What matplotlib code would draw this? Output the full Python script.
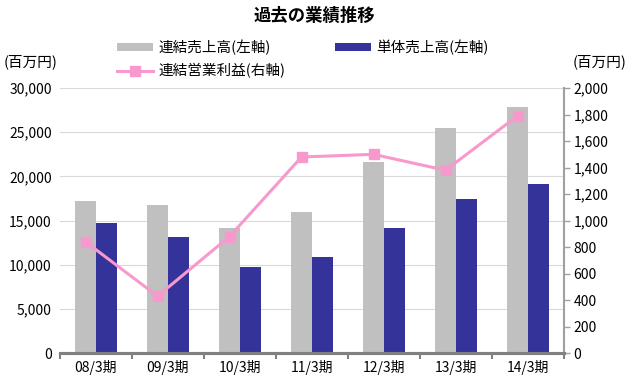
import matplotlib
matplotlib.use("Agg")
import matplotlib.pyplot as plt
import numpy as np

plt.rcParams['font.family'] = ['Noto Sans CJK JP', 'DejaVu Sans']

# data (百万円)
periods = ["08/3期", "09/3期", "10/3期", "11/3期", "12/3期", "13/3期", "14/3期"]
consolidated_sales = [17200, 16800, 14200, 16000, 21600, 25500, 27900]
standalone_sales = [14700, 13100, 9700, 10900, 14200, 17500, 19200]
operating_profit = [840, 430, 880, 1480, 1500, 1380, 1790]

gray = "#C0C0C0"
navy = "#333399"
pink = "#F799CC"

fig = plt.figure(figsize=(6.28, 3.83), dpi=100)
ax = fig.add_axes([0.0955, 0.078, 0.8025, 0.692])
ax2 = ax.twinx()

x = np.arange(len(periods))
w = 0.29
b1 = ax.bar(x - w / 2, consolidated_sales, w, color=gray, zorder=2)
b2 = ax.bar(x + w / 2, standalone_sales, w, color=navy, zorder=2)
l1, = ax2.plot(x - w / 2, operating_profit, color=pink, lw=2.2, marker="s", ms=7, zorder=3)

ax.set_xlim(-0.5, len(periods) - 0.5)
ax.set_ylim(0, 30000)
ax.set_yticks(np.arange(0, 30001, 5000))
ax.set_yticklabels([f"{v:,}" for v in range(0, 30001, 5000)], fontsize=10)
ax.grid(axis="y", color="#D9D9D9", lw=0.8, zorder=0)
ax.set_axisbelow(True)
ax.tick_params(axis="y", length=0, pad=6)

ax.set_xticks(x)
ax.set_xticklabels(periods, fontsize=10)
ax.set_xticks(np.arange(-0.5, len(periods) + 0.5, 1), minor=True)
ax.tick_params(axis="x", which="major", length=0, pad=5)
ax.tick_params(axis="x", which="minor", length=4, width=1.5, color="#808080")

ax2.set_ylim(0, 2000)
ax2.set_yticks(np.arange(0, 2001, 200))
ax2.set_yticklabels([f"{v:,}" for v in range(0, 2001, 200)], fontsize=10)
ax2.tick_params(axis="y", length=4, width=1, color="#A0A0A0", pad=3)

for a in (ax, ax2):
    for s in ("top", "left", "right"):
        a.spines[s].set_visible(False)
    a.spines["bottom"].set_color("#808080")
    a.spines["bottom"].set_linewidth(2.2)
ax2.spines["right"].set_visible(True)
ax2.spines["right"].set_color("#A0A0A0")
ax2.spines["right"].set_linewidth(1.5)

fig.text(0.5, 0.958, "過去の業績推移", ha="center", va="center", fontsize=12.5, fontweight="bold")
fig.text(0.006, 0.838, "(百万円)", ha="left", va="center", fontsize=10.5)
fig.text(0.997, 0.838, "(百万円)", ha="right", va="center", fontsize=10.5)

# column-wise fill: col 1 = 連結売上高, 連結営業利益 ; col 2 = 単体売上高
fig.legend([b1, l1, b2], ["連結売上高(左軸)", "連結営業利益(右軸)", "単体売上高(左軸)"],
           loc="upper left", bbox_to_anchor=(0.174, 0.915), ncol=2, frameon=False,
           fontsize=10.5, handlelength=2.5, handleheight=0.5, columnspacing=3.4,
           labelspacing=0.55, handletextpad=0.35, borderpad=0)

fig.savefig("out.png", dpi=100)
